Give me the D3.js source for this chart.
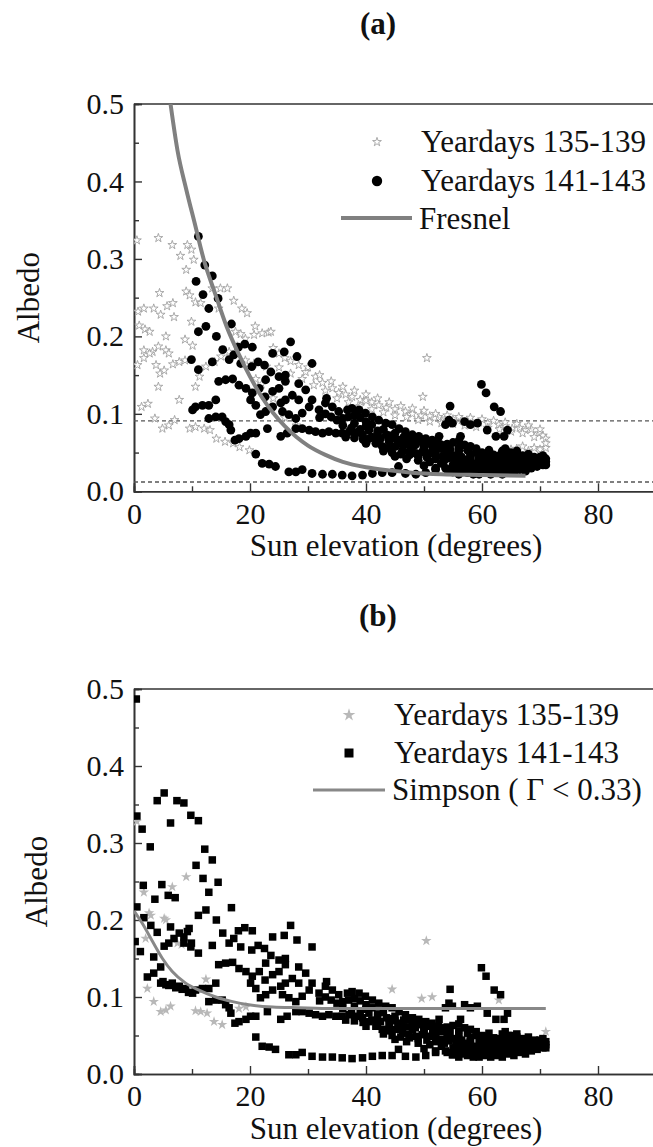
<!DOCTYPE html>
<html><head><meta charset="utf-8">
<script src="https://cdn.jsdelivr.net/npm/d3@7"></script>
<style>
html,body{margin:0;padding:0;background:#fff;}
svg text{font-family:"Liberation Serif","Times New Roman",serif;fill:#111;}
</style></head>
<body><svg id="c" width="653" height="1147"></svg>
<script>
// ---------- DATA ----------
const xTicks = [0, 20, 40, 60, 80];
const xMinorTicks = [10, 30, 50, 70, 90];
const yTicks = [0.0, 0.1, 0.2, 0.3, 0.4, 0.5];
const yMinorTicks = [0.05, 0.15, 0.25, 0.35, 0.45];
const yTickLabels = ["0.0", "0.1", "0.2", "0.3", "0.4", "0.5"];
const legendA = ["Yeardays 135-139", "Yeardays 141-143", "Fresnel"];
const legendB = ["Yeardays 135-139", "Yeardays 141-143", "Simpson ( \u0393 < 0.33)"];
const dashedLevelsA = [0.091, 0.012];

// Yeardays 141-143 (shared by both panels)
const yd141_143 = [
[11.1,0.329],[12.2,0.292],[13.5,0.278],[10.7,0.271],[11.9,0.254],[14.5,0.249],[12.9,0.236],[11.1,0.206],[12.4,0.213],[16.8,0.216],
[14.2,0.200],[15.3,0.183],[19.1,0.190],[20.4,0.186],[18.0,0.186],[23.9,0.178],[25.9,0.180],[27.0,0.193],[28.1,0.174],[9.9,0.170],
[16.4,0.170],[11.1,0.157],[13.5,0.167],[14.6,0.142],[15.8,0.144],[17.0,0.145],[17.2,0.176],[18.4,0.165],[20.3,0.161],[19.3,0.133],
[20.4,0.127],[18.1,0.137],[21.4,0.167],[22.5,0.163],[30.7,0.165],[23.6,0.154],[25.0,0.148],[26.1,0.150],[22.7,0.144],[21.6,0.133],
[22.6,0.122],[23.9,0.129],[25.0,0.133],[26.1,0.142],[28.4,0.139],[29.6,0.131],[27.3,0.124],[26.1,0.118],[25.3,0.114],[23.9,0.109],
[22.7,0.103],[21.8,0.099],[21.0,0.111],[20.1,0.118],[28.4,0.118],[30.7,0.118],[30.2,0.109],[29.0,0.101],[27.9,0.094],[26.7,0.099],
[25.6,0.103],[31.9,0.105],[33.0,0.114],[33.2,0.120],[34.2,0.109],[35.3,0.103],[36.8,0.105],[37.6,0.107],[38.8,0.105],[39.9,0.101],
[41.1,0.096],[42.2,0.092],[43.4,0.088],[44.5,0.086],[45.7,0.081],[46.8,0.077],[48.0,0.073],[49.1,0.071],[50.3,0.068],[51.4,0.066],
[52.6,0.071],[53.7,0.086],[54.3,0.092],[54.9,0.088],[54.5,0.110],[56.3,0.071],[57.0,0.090],[58.0,0.086],[59.2,0.088],[59.9,0.138],
[60.7,0.127],[60.9,0.079],[61.2,0.053],[62.1,0.109],[63.2,0.103],[62.4,0.071],[63.8,0.071],[64.4,0.079],
[10.1,0.105],[10.6,0.109],[11.8,0.111],[12.9,0.111],[14.1,0.118],[12.9,0.094],[14.1,0.096],[15.2,0.096],[15.8,0.090],[16.4,0.086],
[16.7,0.079],[17.4,0.066],[18.1,0.068],[19.3,0.071],[20.1,0.075],[21.0,0.075],[21.0,0.048],[22.1,0.036],[23.3,0.035],[24.4,0.032],
[26.7,0.025],[27.9,0.025],[29.0,0.028],[30.7,0.023],[32.5,0.022],[34.2,0.022],[35.9,0.021],[37.6,0.020],[39.4,0.021],[41.1,0.023],
[42.8,0.024],[44.5,0.024],[45.6,0.032],[46.8,0.023],[48.6,0.022],[50.3,0.024],[52.0,0.028],[53.7,0.030],[54.9,0.025],
[23.0,0.081],[25.3,0.071],[26.4,0.075],[27.9,0.081],[29.0,0.081],[30.2,0.079],[31.3,0.077],[32.5,0.075],[33.6,0.077],[34.8,0.075],
[35.9,0.075],[37.1,0.077],[38.2,0.075],[39.4,0.073],[40.5,0.068],[41.7,0.062],[42.8,0.058],[44.0,0.056],[45.1,0.058],[46.3,0.053],
[47.4,0.051],[48.6,0.049],[49.7,0.051],[50.9,0.049],[52.0,0.047],[53.2,0.045],[54.3,0.043],[55.5,0.040],[56.6,0.038],[57.8,0.036],
[36,0.085],[38,0.088],[40,0.084],[42,0.078],[44,0.072],[46,0.066],[48,0.062],[50,0.060],[52,0.058],[54,0.055],[56,0.052],[58,0.048],
[40,0.062],[42,0.066],[44,0.064],[46,0.062],[48,0.058],[50,0.056],[52,0.052],[54,0.050],[56,0.046],[58,0.042],[60,0.040],
[32,0.095],[33,0.100],[34,0.096],[35,0.092],[36,0.094],[37,0.096],[38,0.098],[39,0.095],[40,0.090],[41,0.086],[43,0.080],[45,0.075],
[47,0.070],[49,0.066],[51,0.062],[53,0.060],[55,0.063],[56,0.065],[57,0.060],[58,0.058],[59,0.055],[60,0.050],[61,0.049],[62,0.047],
[55.5,0.030],[56.5,0.026],[57.5,0.024],[58.5,0.022],[59.5,0.022],[60.5,0.024],[61.5,0.022],[62.5,0.024],[63.5,0.022],[64.5,0.026],
[65.5,0.024],[66.5,0.028],[67.5,0.026],[68.5,0.030],[69.5,0.032],[70.5,0.034],
[56,0.034],[57,0.032],[58,0.030],[59,0.028],[60,0.030],[61,0.028],[62,0.030],[63,0.028],[64,0.032],[65,0.030],[66,0.034],[67,0.032],
[68,0.036],[69,0.038],[70,0.040],[71,0.038],
[57,0.040],[58,0.038],[59,0.036],[60,0.034],[61,0.036],[62,0.034],[63,0.038],[64,0.040],[65,0.038],[66,0.042],[67,0.040],[68,0.042],
[69,0.044],[70,0.044],[71,0.042],
[60,0.044],[61,0.042],[62,0.044],[63,0.046],[64,0.048],[65,0.046],[66,0.048],[67,0.046],[68,0.048],[63.5,0.052],[64.5,0.050],
[45,0.045],[47,0.042],[49,0.040],[51,0.038],[53,0.036],[55,0.034],[50,0.033],[52,0.030],[54,0.028],
[37.5,0.082],[39,0.080],[40.5,0.079],[42,0.074],[43.5,0.073],[45,0.069],[46.5,0.070],[48,0.066],[49.5,0.064],[51,0.064],[52.5,0.062],[54,0.061],
[36.5,0.070],[38,0.069],[39.5,0.067],[41,0.070],[42.5,0.068],[44,0.066],[45.5,0.064],[47,0.061],[48.5,0.060],[50,0.058],[51.5,0.057],
[53,0.055],[54.5,0.054],[56,0.056],[57.5,0.053],[59,0.050],
[43,0.052],[44.5,0.050],[46,0.048],[47.5,0.047],[49,0.046],[50.5,0.044],[52,0.042],[53.5,0.040],[55,0.046],[56.5,0.044],[58,0.045],
[59.5,0.043],[61,0.046],[62.5,0.041],
[55,0.025],[56,0.022],[57,0.028],[58,0.026],[59,0.024],[60,0.026],[61,0.032],[62,0.026],[63,0.032],[64,0.028],[65,0.034],[66,0.030],
[67,0.036],[68,0.033],[69,0.035],[70,0.037],[71,0.034],[60.5,0.038],[61.5,0.040],[62.5,0.038],[63.5,0.042],[64.5,0.044],[65.5,0.042],
[66.5,0.044],[67.5,0.043],[68.5,0.039],[69.5,0.041],[70.5,0.046],[66,0.038],[65,0.050],[66,0.052],[64,0.055]
];

// Yeardays 141-143, low-elevation points only present in panel (b)
const yd141_143_lowB = [
[0.4,0.487],[0.5,0.335],[1.4,0.318],[2.8,0.295],[4.0,0.355],[5.2,0.365],[6.3,0.326],[7.4,0.355],[8.6,0.352],[9.8,0.336],
[1.6,0.245],[4.8,0.246],[3.6,0.227],[5.9,0.232],[7.1,0.229],[0.5,0.217],[1.7,0.203],[2.9,0.193],[4.0,0.184],[6.3,0.191],
[7.8,0.183],[8.6,0.178],[9.2,0.185],[0.2,0.172],[1.1,0.159],[2.3,0.126],[3.4,0.131],[4.6,0.139],[3.4,0.152],[5.2,0.166],
[6.0,0.170],[6.9,0.176],[9.5,0.189],[8.6,0.170],[9.8,0.165],[4.6,0.118],[5.5,0.116],[6.6,0.118],[7.8,0.114],[8.9,0.111],
[5.0,0.120],[6.0,0.115],[7.2,0.112],[8.3,0.110],[9.4,0.106]
];

// Yeardays 135-139, panel (a)
const yd135_139_a = [
[0.5,0.324],[4.2,0.327],[6.6,0.318],[8.0,0.304],[9.2,0.318],[9.9,0.312],[9.0,0.286],[10.3,0.299],[4.4,0.256],[9.0,0.258],
[9.6,0.253],[13.5,0.262],[14.9,0.262],[16.1,0.262],[0.7,0.232],[1.7,0.236],[3.4,0.236],[4.6,0.228],[5.7,0.239],[6.7,0.243],
[6.9,0.225],[10.6,0.244],[11.5,0.243],[14.6,0.236],[17.2,0.246],[18.6,0.236],[19.5,0.230],[0.9,0.214],[1.9,0.209],[2.7,0.206],
[5.5,0.200],[8.8,0.196],[9.9,0.219],[17.5,0.206],[18.4,0.203],[20.9,0.213],[22.1,0.204],[23.2,0.205],[1.7,0.182],[3.2,0.180],
[4.2,0.187],[5.5,0.182],[10.1,0.188],[0.6,0.163],[1.7,0.172],[2.7,0.178],[3.8,0.163],[4.5,0.152],[5.2,0.156],[4.2,0.135],
[6.0,0.178],[6.7,0.164],[7.8,0.167],[8.8,0.169],[1.3,0.109],[2.4,0.113],[3.6,0.094],[4.9,0.081],[6.0,0.085],[7.0,0.092],
[7.8,0.118],[9.6,0.081],[10.6,0.083],[12.1,0.081],[13.1,0.079],[14.2,0.068],[15.7,0.064],[17.1,0.062],[18.2,0.057],[19.9,0.053],
[10.6,0.135],[11.3,0.148],[12.4,0.161],[13.9,0.167],[15.0,0.174],[16.4,0.180],[17.8,0.187],[19.2,0.197],[20.7,0.202],[23.6,0.206],
[19.2,0.169],[20.7,0.165],[22.8,0.161],
[24,0.185],[25,0.178],[26,0.172],[27,0.168],[28.4,0.163],[29.6,0.154],[31.3,0.148],[32.5,0.140],[34.2,0.133],[35.3,0.127],
[36.5,0.125],[37.6,0.122],[39,0.118],[40,0.117],[41,0.115],[42.2,0.111],[43.5,0.108],[45,0.106],[46.8,0.103],[48,0.100],
[49.5,0.098],[51,0.097],[52.5,0.096],[53.7,0.094],[55,0.093],[56.5,0.092],[58.3,0.090],[59.5,0.089],[61,0.088],[62.9,0.086],
[64,0.084],[65.2,0.081],[66.5,0.082],[67.5,0.079],[68.5,0.080],[69.8,0.075],[70.5,0.072],
[25,0.160],[27,0.152],[29,0.145],[31,0.137],[33,0.130],[35,0.120],[37,0.115],[39,0.110],[41,0.106],[43,0.102],[45,0.098],
[47,0.096],[49,0.092],[51,0.090],[53,0.088],[55,0.087],[57,0.085],[59,0.083],[61,0.082],[63,0.080],[65,0.077],[67,0.075],
[69,0.070],[71,0.068],
[30,0.160],[32,0.150],[34,0.142],[36,0.135],[38,0.130],[40,0.125],[42,0.120],[44,0.115],[46,0.110],[48,0.107],[50,0.104],
[52,0.100],[54,0.098],[56,0.096],[58,0.095],[60,0.093],[62,0.091],[64,0.089],[66,0.087],[68,0.085],[70,0.080],
[50.5,0.172],[49.8,0.122],[66,0.055],[67,0.058],[68,0.052],[69,0.056],[70,0.054],[71,0.056],[71,0.062],[21,0.145],[22,0.138],
[24,0.120],[26,0.095],[28,0.085],[64,0.050],[65,0.054],[67,0.045]
];

// Yeardays 135-139, panel (b)
const yd135_139_b = [
[0.5,0.328],[1.7,0.236],[2.9,0.206],[5.5,0.200],[6.6,0.243],[9.0,0.256],[2.6,0.209],[2.0,0.176],[5.2,0.202],[7.5,0.170],
[8.2,0.168],[2.3,0.111],[3.4,0.094],[4.6,0.081],[5.5,0.083],[6.3,0.088],[10.6,0.082],[11.5,0.081],[12.4,0.123],[12.6,0.079],
[13.8,0.068],[15.2,0.064],[18.1,0.085],[19.3,0.087],[44.5,0.110],[49.6,0.098],[51.4,0.100],[50.4,0.173],[62.9,0.096],[71,0.055]
];

// Fresnel curve (panel a)
const fresnelX = [6.3, 7.5, 9, 10.5, 12, 14, 16, 18, 20, 22, 24, 26, 28, 30, 33, 36, 40, 44, 48, 53, 60, 67.5];
const fresnelY = [0.5, 0.44, 0.39, 0.345, 0.30, 0.255, 0.212, 0.178, 0.148, 0.122, 0.101, 0.084, 0.070, 0.059, 0.047, 0.038, 0.031, 0.027, 0.024, 0.022, 0.021, 0.020];

// Simpson curve (panel b)
const simpsonX = [0, 1.4, 3.2, 4.9, 6.6, 8.9, 11.2, 14.1, 17, 19.8, 23.9, 28.4, 34.2, 50, 71];
const simpsonY = [0.212, 0.196, 0.172, 0.150, 0.133, 0.118, 0.109, 0.100, 0.094, 0.090, 0.087, 0.086, 0.085, 0.085, 0.085];

// ---------- DRAW ----------
const svg = d3.select("#c");
const FONT = 30;

function panel(cfg) {
  const g = svg.append("g");
  const x = d3.scaleLinear().domain([0, 90]).range([134, 656]);
  const y = d3.scaleLinear().domain([0, 0.5]).range([cfg.bottom, cfg.top]);
  const clipId = "clip" + cfg.id;
  svg.append("defs").append("clipPath").attr("id", clipId)
    .append("rect").attr("x", 134).attr("y", cfg.top).attr("width", 522).attr("height", cfg.bottom - cfg.top);

  g.append("text").attr("x", 378).attr("y", cfg.titleY).attr("text-anchor", "middle")
    .style("font-size", "31px").style("font-weight", "bold").text(cfg.title);

  const xAxis = d3.axisBottom(x).tickValues(xTicks).tickSize(-8).tickPadding(11).tickFormat(d3.format("d"));
  g.append("g").attr("transform", `translate(0,${cfg.bottom})`).call(xAxis);
  const xMinor = d3.axisBottom(x).tickValues(xMinorTicks).tickSize(-5).tickFormat("");
  g.append("g").attr("transform", `translate(0,${cfg.bottom})`).call(xMinor);
  const yAxis = d3.axisLeft(y).tickValues(yTicks).tickSize(-8).tickPadding(10).tickFormat((d, i) => yTickLabels[i]);
  g.append("g").attr("transform", "translate(134,0)").call(yAxis);
  const yMinor = d3.axisLeft(y).tickValues(yMinorTicks).tickSize(-5).tickFormat("");
  g.append("g").attr("transform", "translate(134,0)").call(yMinor);
  g.selectAll(".domain").attr("stroke", "#333").attr("stroke-width", 1.6);
  g.selectAll(".tick line").attr("stroke", "#333").attr("stroke-width", 1.4);
  g.selectAll(".tick text").style("font-family", '"Liberation Serif", serif').style("font-size", FONT + "px").attr("fill", "#111");
  g.append("line").attr("x1", 134).attr("x2", 656).attr("y1", cfg.top).attr("y2", cfg.top).attr("stroke", "#333").attr("stroke-width", 1.6);
  g.append("line").attr("x1", 656).attr("x2", 656).attr("y1", cfg.top).attr("y2", cfg.bottom).attr("stroke", "#333").attr("stroke-width", 1.6);

  g.append("text").attr("x", 396).attr("y", cfg.bottom + 65).attr("text-anchor", "middle")
    .style("font-size", "31px").text("Sun elevation (degrees)");
  g.append("text").attr("transform", `translate(${cfg.ylabX},${(cfg.top + cfg.bottom) / 2}) rotate(-90)`)
    .attr("text-anchor", "middle").style("font-size", "31px").text("Albedo");

  const plot = g.append("g").attr("clip-path", `url(#${clipId})`);
  return { g, plot, x, y };
}

// ---- Panel (a) ----
{
  const { plot, x, y, g } = panel({ id: "a", top: 104, bottom: 491.3, title: "(a)", titleY: 34, ylabX: 39 });
  dashedLevelsA.forEach(v => {
    plot.append("line").attr("x1", x(0)).attr("x2", x(90)).attr("y1", y(v)).attr("y2", y(v))
      .attr("stroke", "#555").attr("stroke-width", 1.3).attr("stroke-dasharray", "4,3");
  });
  const star = d3.symbol().type(d3.symbolStar).size(24);
  plot.selectAll(".s").data(yd135_139_a).join("path")
    .attr("d", star).attr("transform", d => `translate(${x(d[0])},${y(d[1])})`)
    .attr("fill", "#fff").attr("stroke", "#a0a0a0").attr("stroke-width", 0.9);
  plot.selectAll(".c").data(yd141_143).join("circle")
    .attr("cx", d => x(d[0])).attr("cy", d => y(d[1])).attr("r", 4.4).attr("fill", "#000");
  const line = d3.line().x((d, i) => x(fresnelX[i])).y(d => y(d)).curve(d3.curveMonotoneX);
  plot.append("path").attr("d", line(fresnelY)).attr("fill", "none").attr("stroke", "#808080").attr("stroke-width", 4);

  const L = g.append("g");
  L.append("path").attr("d", d3.symbol().type(d3.symbolStar).size(24)()).attr("transform", "translate(377,142)")
    .attr("fill", "#fff").attr("stroke", "#a0a0a0").attr("stroke-width", 0.9);
  L.append("circle").attr("cx", 377).attr("cy", 181).attr("r", 5.2).attr("fill", "#000");
  L.append("line").attr("x1", 341).attr("x2", 412).attr("y1", 218).attr("y2", 218).attr("stroke", "#808080").attr("stroke-width", 4);
  const ly = [152, 191, 229], lx = [421, 421, 419];
  legendA.forEach((t, i) => L.append("text").attr("x", lx[i]).attr("y", ly[i]).style("font-size", "31px").text(t));
}

// ---- Panel (b) ----
{
  const { plot, x, y, g } = panel({ id: "b", top: 689, bottom: 1074, title: "(b)", titleY: 626, ylabX: 47 });
  const star = d3.symbol().type(d3.symbolStar).size(34);
  plot.selectAll(".s").data(yd135_139_b).join("path")
    .attr("d", star).attr("transform", d => `translate(${x(d[0])},${y(d[1])})`)
    .attr("fill", "#b8b8b8");
  const sq = 7.5;
  plot.selectAll(".q").data(yd141_143.concat(yd141_143_lowB)).join("rect")
    .attr("x", d => x(d[0]) - sq / 2).attr("y", d => y(d[1]) - sq / 2).attr("width", sq).attr("height", sq).attr("fill", "#000");
  const line = d3.line().x((d, i) => x(simpsonX[i])).y(d => y(d)).curve(d3.curveMonotoneX);
  plot.append("path").attr("d", line(simpsonY)).attr("fill", "none").attr("stroke", "#888").attr("stroke-width", 3);

  const L = g.append("g");
  L.append("path").attr("d", d3.symbol().type(d3.symbolStar).size(50)()).attr("transform", "translate(349,715)")
    .attr("fill", "#b8b8b8");
  L.append("rect").attr("x", 349 - 4.5).attr("y", 753 - 4.5).attr("width", 9).attr("height", 9).attr("fill", "#000");
  L.append("line").attr("x1", 313).attr("x2", 385).attr("y1", 790).attr("y2", 790).attr("stroke", "#888").attr("stroke-width", 3);
  const ly = [725, 763, 800], lx = [394, 394, 392];
  legendB.forEach((t, i) => L.append("text").attr("x", lx[i]).attr("y", ly[i]).style("font-size", "31px").text(t));
}
</script></body></html>
